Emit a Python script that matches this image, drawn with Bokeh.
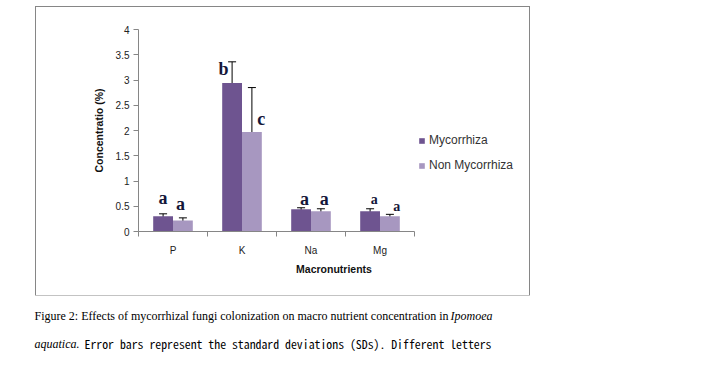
import numpy as np
from bokeh.plotting import figure
from bokeh.layouts import column
from bokeh.models import (ColumnDataSource, Whisker, TeeHead, FixedTicker, CustomJSTickFormatter,
                          Legend, LegendItem, Range1d)
from bokeh.core.properties import value
from bokeh.embed import file_html
from bokeh.resources import INLINE

categories = ["P", "K", "Na", "Mg"]
mycorrhiza = [0.30, 2.94, 0.44, 0.40]
mycorrhiza_sd = [0.05, 0.42, 0.03, 0.05]
non_mycorrhiza = [0.22, 1.97, 0.40, 0.30]
non_mycorrhiza_sd = [0.05, 0.88, 0.05, 0.04]
letters_myc = ["a", "b", "a", "a"]
letters_non = ["a", "c", "a", "a"]
y_ticks = [0, 0.5, 1, 1.5, 2, 2.5, 3, 3.5, 4]

C_MYC = "#6e5490"
C_NON = "#a797c0"
AX = "#868686"

# chart box: page x 36..529, y 7..295 ; plot frame x 138..529, y 29..231
BOX_W, BOX_H = 493, 288
FL, FT, FH = 102, 22, 202
n = len(categories)
px_per_cat = 69.0
x_end = (BOX_W - FL) / px_per_cat

p = figure(width=BOX_W, height=BOX_H, output_backend="svg", toolbar_location=None,
           x_range=Range1d(0, x_end), y_range=Range1d(0, 4),
           min_border_left=FL, min_border_right=0,
           min_border_top=FT, min_border_bottom=BOX_H - FT - FH,
           margin=(7, 0, 0, 36), styles={"outline": "1px solid " + AX})
p.outline_line_color = None
p.xgrid.visible = False
p.ygrid.visible = False
p.background_fill_color = "white"
p.border_fill_color = "white"

idx = np.arange(n)
bw = 0.287
x_myc = idx + 0.5 - bw / 2
x_non = idx + 0.5 + bw / 2

src_m = ColumnDataSource(dict(x=x_myc, top=mycorrhiza,
                              upper=np.array(mycorrhiza) + np.array(mycorrhiza_sd),
                              lower=np.array(mycorrhiza) - np.array(mycorrhiza_sd)))
src_n = ColumnDataSource(dict(x=x_non, top=non_mycorrhiza,
                              upper=np.array(non_mycorrhiza) + np.array(non_mycorrhiza_sd),
                              lower=np.array(non_mycorrhiza) - np.array(non_mycorrhiza_sd)))

r_m = p.vbar(x="x", top="top", width=bw, bottom=0, source=src_m, fill_color=C_MYC, line_color=None)
r_n = p.vbar(x="x", top="top", width=bw, bottom=0, source=src_n, fill_color=C_NON, line_color=None)

for s in (src_m, src_n):
    w = Whisker(base="x", upper="upper", lower="lower", source=s, line_color="black", line_width=1,
                upper_head=TeeHead(size=8, line_color="black", line_width=1),
                lower_head=TeeHead(size=8, line_color="black", line_width=1))
    p.add_layout(w)

# significance letters (placement offsets relative to each bar)
lx_m = [0.0, -0.125, 0.05, 0.06]
ly_m = [0.37, 0.27, 0.21, 0.23]
lx_n = [-0.035, 0.135, 0.05, 0.10]
ly_n = [0.32, 0.25, 0.25, 0.20]
lsize = ["18px", "18px", "18px", "14px"]
for xs, vals, dx, dy, labs in ((x_myc, mycorrhiza, lx_m, ly_m, letters_myc),
                               (x_non, non_mycorrhiza, lx_n, ly_n, letters_non)):
    p.text(x=xs + np.array(dx), y=np.array(vals) + np.array(dy), text=labs,
           text_font=value("Liberation Serif"), text_font_style="bold", text_font_size=lsize,
           text_align="center", text_baseline="middle", text_color="#15173a")

# x axis
xa = p.xaxis[0]
xa.bounds = (0, n)
xa.ticker = FixedTicker(ticks=list(idx + 0.5), minor_ticks=list(range(n + 1)))
xa.formatter = CustomJSTickFormatter(args=dict(cats=categories), code="return cats[Math.floor(tick)];")
xa.major_tick_line_color = None
xa.major_tick_out = 0
xa.major_tick_in = 0
xa.minor_tick_line_color = AX
xa.minor_tick_out = 5
xa.minor_tick_in = 0
xa.axis_line_color = AX
xa.major_label_standoff = 8
xa.major_label_text_font = "Liberation Sans"
xa.major_label_text_font_size = "10px"
xa.major_label_text_color = "#222222"
xa.axis_label = "Macronutrients"
xa.axis_label_text_font = "Liberation Sans"
xa.axis_label_text_font_style = "bold"
xa.axis_label_text_font_size = "10.5px"
xa.axis_label_text_color = "#111111"
xa.axis_label_standoff = 4

ya = p.yaxis[0]
ya.ticker = FixedTicker(ticks=y_ticks)
ya.formatter = CustomJSTickFormatter(code="return tick.toString();")
ya.major_tick_out = 5
ya.major_tick_in = 0
ya.major_tick_line_color = AX
ya.minor_tick_line_color = None
ya.axis_line_color = AX
ya.major_label_standoff = 4
ya.major_label_text_font = "Liberation Sans"
ya.major_label_text_font_size = "10px"
ya.major_label_text_color = "#222222"
ya.axis_label = "Concentratio (%)"
ya.axis_label_text_font = "Liberation Sans"
ya.axis_label_text_font_style = "bold"
ya.axis_label_text_font_size = "10.5px"
ya.axis_label_text_color = "#111111"
ya.axis_label_standoff = 8

# legend (inside extended frame, right of the axis end)
legend = Legend(items=[LegendItem(label="Mycorrhiza", renderers=[r_m]),
                       LegendItem(label="Non Mycorrhiza", renderers=[r_n])],
                location=(280, 231 - 172), orientation="vertical",
                glyph_width=7, glyph_height=7, label_height=12, spacing=11,
                padding=0, margin=0, border_line_color=None, background_fill_alpha=0,
                label_text_font="Liberation Sans", label_text_font_size="12px",
                label_text_color="#333333", label_standoff=4)
p.add_layout(legend)

# caption figure (below the chart box); x range in page pixels
CAP_W, CAP_H = 697, 60
c = figure(width=CAP_W, height=CAP_H, output_backend="svg", toolbar_location=None,
           y_range=Range1d(CAP_H, 0),
           x_axis_location=None, y_axis_location=None,
           min_border=0, margin=(0, 0, 0, 0))
x0 = FL
try:
    c.frame_align = False
    p.frame_align = False
    x0 = 0
except Exception:
    pass
c.x_range = Range1d(x0, CAP_W)
c.outline_line_color = None
c.xgrid.visible = False
c.ygrid.visible = False

cap1 = "Figure 2: Effects of mycorrhizal fungi colonization on macro nutrient concentration in"
cap1_it = "Ipomoea"
cap2_it = "aquatica."
cap2 = "Error bars represent the standard deviations (SDs). Different letters"
y1, y2 = 315 - 295, 343 - 295
c.text(x=[34], y=[y1], text=[cap1], text_font=value("Liberation Serif"), text_font_size="12px",
       text_baseline="middle", text_color="black")
c.text(x=[492], y=[y1], text=[cap1_it], text_font=value("Liberation Serif"), text_font_style="italic",
       text_font_size="12px", text_baseline="middle", text_align="right", text_color="black")
c.text(x=[34], y=[y2], text=[cap2_it], text_font=value("Liberation Serif"), text_font_style="italic",
       text_font_size="12px", text_baseline="middle", text_color="black")
c.text(x=[84], y=[y2], text=[cap2], text_font=value("Noto Sans Mono CJK SC"), text_font_size="11.8px",
       text_baseline="middle", text_color="black")

layout = column(p, c, spacing=0)
open("out.html", "w").write(file_html(layout, INLINE))
